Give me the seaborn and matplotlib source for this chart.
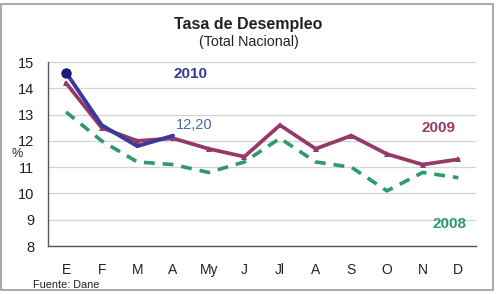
import matplotlib.pyplot as plt
import pandas as pd
import seaborn as sns

meses = ["E", "F", "M", "A", "My", "J", "Jl", "A", "S", "O", "N", "D"]
tasa_2008 = [13.1, 12.0, 11.2, 11.1, 10.8, 11.2, 12.1, 11.2, 11.0, 10.1, 10.8, 10.6]
tasa_2009 = [14.2, 12.5, 12.0, 12.1, 11.7, 11.4, 12.6, 11.7, 12.2, 11.5, 11.1, 11.3]
tasa_2010 = [14.6, 12.6, 11.8, 12.2]
y_ticks = [8, 9, 10, 11, 12, 13, 14, 15]

sns.set_theme(style="white")
plt.rcParams["font.family"] = ["Liberation Sans", "DejaVu Sans"]

df08 = pd.DataFrame({"pos": range(len(tasa_2008)), "tasa": tasa_2008})
df09 = pd.DataFrame({"pos": range(len(tasa_2009)), "tasa": tasa_2009})
df10 = pd.DataFrame({"pos": range(len(tasa_2010)), "tasa": tasa_2010})

fig = plt.figure(figsize=(4.97, 2.94), dpi=100)
ax = fig.add_axes([0.097, 0.163, 0.861, 0.626])

verde = "#2e9a6a"
granate = "#953a68"
azul = "#3a3a9c"

sns.lineplot(data=df08, x="pos", y="tasa", ax=ax, color=verde, lw=2.6,
             linestyle=(0, (3, 2.2)))
sns.lineplot(data=df09, x="pos", y="tasa", ax=ax, color=granate, lw=2.7,
             marker="^", markersize=5, markeredgewidth=0)
sns.lineplot(data=df10, x="pos", y="tasa", ax=ax, color=azul, lw=2.8)
ax.plot(df10["pos"].iloc[:1], df10["tasa"].iloc[:1], "o", color="#1a1a78", ms=6.5, zorder=5)

ax.set_xlim(-0.5, len(meses) - 0.5)
ax.set_ylim(8, 15)
ax.set_yticks(y_ticks)
ax.set_xticks(range(len(meses)))
ax.set_xticklabels(meses)
ax.set_xticks([i - 0.5 for i in range(len(meses) + 1)], minor=True)
ax.tick_params(axis="x", which="major", length=0, pad=12.5, labelsize=10, colors="#222222")
ax.tick_params(axis="x", which="minor", length=4, width=0.8, color="#555555", direction="out")
ax.tick_params(axis="y", length=0, pad=10, labelsize=10.5, colors="#222222")
ax.grid(axis="y", color="#d4d4d4", lw=0.9)
ax.set_xlabel("")
ax.set_ylabel("")
for s in ["top", "right"]:
    ax.spines[s].set_visible(False)
for s in ["left", "bottom"]:
    ax.spines[s].set_color("#555555")
    ax.spines[s].set_linewidth(1.0)

ax.text(3.5, 14.55, "2010", color=azul, fontsize=11, fontweight="bold", ha="center", va="center")
ax.text(3.6, 12.62, "12,20", color="#4a68a8", fontsize=10.5, ha="center", va="center")
ax.text(10.45, 12.5, "2009", color=granate, fontsize=11, fontweight="bold", ha="center", va="center")
ax.text(10.75, 8.85, "2008", color=verde, fontsize=11, fontweight="bold", ha="center", va="center")

fig.text(0.5, 0.918, "Tasa de Desempleo", ha="center", va="center", fontsize=11.5, fontweight="bold", color="#222222")
fig.text(0.5, 0.858, "(Total Nacional)", ha="center", va="center", fontsize=10.3, color="#222222")
fig.text(0.034, 0.475, "%", ha="center", va="center", fontsize=9, color="#222222")
fig.text(0.066, 0.03, "Fuente: Dane", ha="left", va="center", fontsize=7.8, color="#222222")

fig.patches.append(plt.Rectangle((0.003, 0.013), 0.988, 0.975, transform=fig.transFigure,
                                 fill=False, edgecolor="#9a9a9a", lw=1.2))

fig.savefig("out.png", dpi=100)
